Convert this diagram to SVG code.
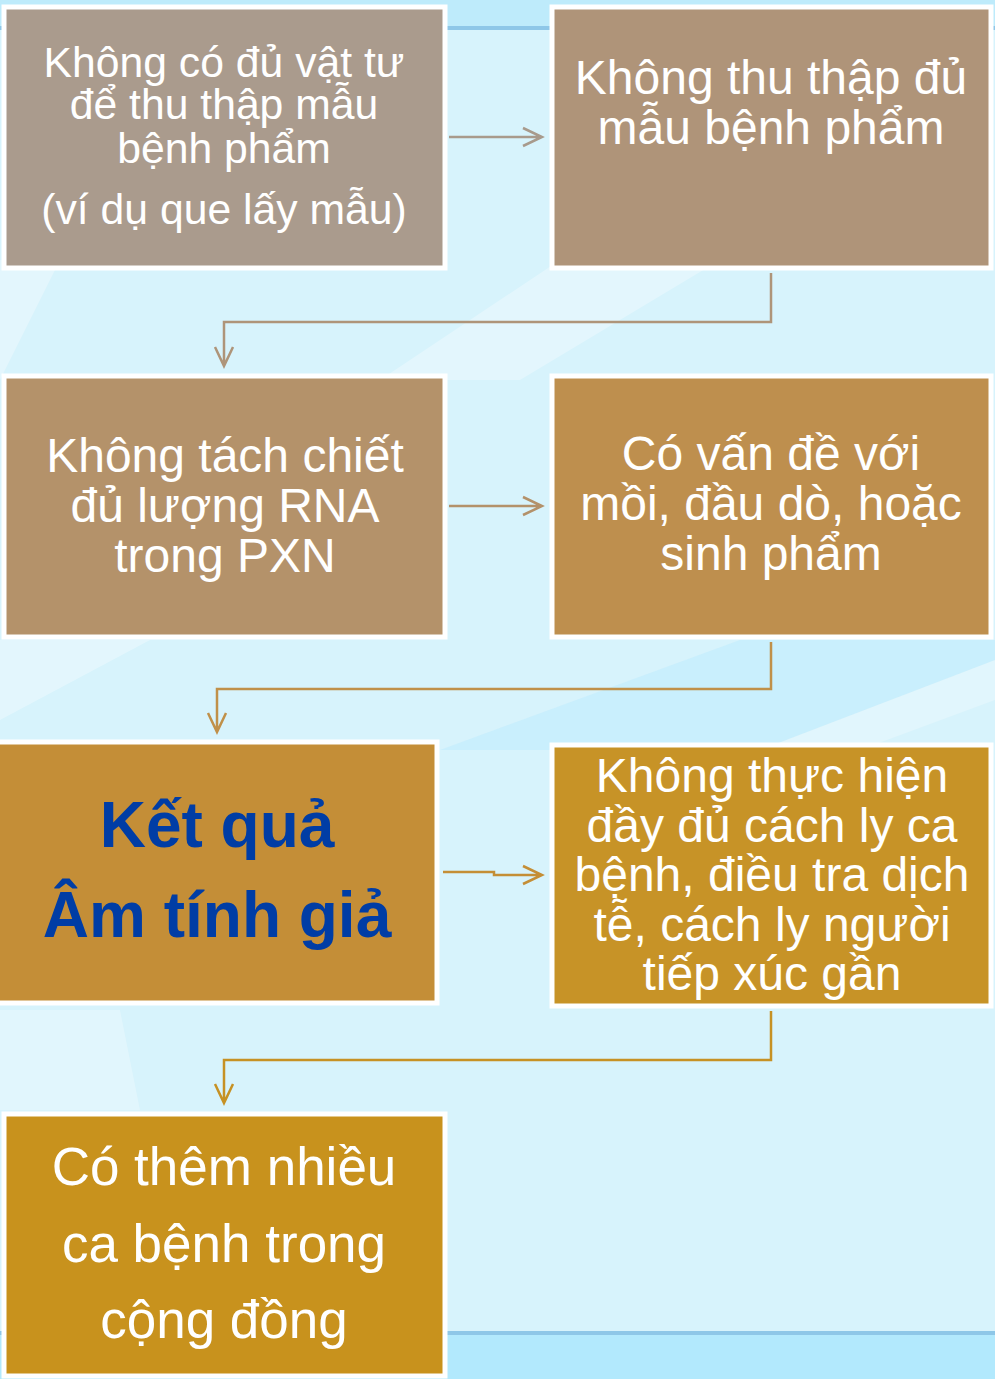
<svg xmlns="http://www.w3.org/2000/svg" width="995" height="1379" viewBox="0 0 995 1379">
<style>
.box{stroke:#fff;stroke-width:5}
.t{font-family:"Liberation Sans",Arial,sans-serif;fill:#fff;text-anchor:middle}
.b{font-family:"Liberation Sans",Arial,sans-serif;fill:#003DA5;font-weight:bold;text-anchor:middle}
.c{fill:none;stroke-width:2.5}
</style>
<g id="background">
<rect x="0" y="0" width="995" height="1379" fill="#D7F3FC"/>
<polygon points="0,0 995,0 995,28 0,28" fill="#BEEBFB"/>
<polygon points="380,380 560,260 720,260 520,380" fill="#fff" opacity="0.3"/>
<polygon points="0,380 60,260 0,260" fill="#fff" opacity="0.3"/>
<polygon points="0,720 150,640 0,640" fill="#fff" opacity="0.3"/>
<polygon points="440,750 740,640 995,640 995,660 760,750" fill="#C6EEFC" opacity="0.8"/>
<polygon points="760,750 995,660 995,700 860,750" fill="#fff" opacity="0.25"/>
<polygon points="0,1010 120,1010 140,1110 0,1110" fill="#fff" opacity="0.25"/>
<rect x="0" y="1333" width="995" height="46" fill="#B2E9FD"/>
<rect x="0" y="26" width="995" height="4" fill="#8EC7E8"/>
<rect x="0" y="1331" width="995" height="4" fill="#8EC7E8"/>
</g>
<g id="connectors">
<path class="c" stroke="#A89A8C" d="M449 137H541M523 128L542 137L523 146"/>
<path class="c" stroke="#AE9479" d="M771 273V322H224V366M215 347L224 366L233 347"/>
<path class="c" stroke="#B3916A" d="M449 506H541M523 497L542 506L523 515"/>
<path class="c" stroke="#C09049" d="M771 642V689H217V732M208 713L217 732L226 713"/>
<path class="c" stroke="#C48E36" d="M443 872H494V875H541M523 866L542 875L523 884"/>
<path class="c" stroke="#C69124" d="M771 1011V1060H224V1103M215 1084L224 1103L233 1084"/>
</g>
<g id="n1">
<rect class="box" x="4" y="7" width="441" height="261" fill="#AA9B8D"/>
<text class="t" font-size="42.7"><tspan x="224" y="77">Không có đủ vật tư</tspan><tspan x="224" y="119">để thu thập mẫu</tspan><tspan x="224" y="163">bệnh phẩm</tspan><tspan x="224" y="224">(ví dụ que lấy mẫu)</tspan></text>
</g>
<g id="n2">
<rect class="box" x="552" y="7" width="439" height="261" fill="#AF9479"/>
<text class="t" font-size="48"><tspan x="771" y="94">Không thu thập đủ</tspan><tspan x="771" y="144">mẫu bệnh phẩm</tspan></text>
</g>
<g id="n3">
<rect class="box" x="4" y="376" width="441" height="261" fill="#B4926A"/>
<text class="t" font-size="48"><tspan x="225" y="472">Không tách chiết</tspan><tspan x="225" y="522">đủ lượng RNA</tspan><tspan x="225" y="572">trong PXN</tspan></text>
</g>
<g id="n4">
<rect class="box" x="552" y="376" width="439" height="261" fill="#BE8F4E"/>
<text class="t" font-size="48"><tspan x="771" y="470">Có vấn đề với</tspan><tspan x="771" y="520">mồi, đầu dò, hoặc</tspan><tspan x="771" y="570">sinh phẩm</tspan></text>
</g>
<g id="n5">
<rect class="box" x="-3" y="742" width="440" height="261" fill="#C48E37"/>
<text class="b" font-size="64"><tspan x="217" y="847">Kết quả</tspan><tspan x="217" y="937">Âm tính giả</tspan></text>
</g>
<g id="n6">
<rect class="box" x="552" y="745" width="439" height="261" fill="#C79327"/>
<text class="t" font-size="48"><tspan x="772" y="792">Không thực hiện</tspan><tspan x="772" y="842">đầy đủ cách ly ca</tspan><tspan x="772" y="891">bệnh, điều tra dịch</tspan><tspan x="772" y="941">tễ, cách ly người</tspan><tspan x="772" y="990">tiếp xúc gần</tspan></text>
</g>
<g id="n7">
<rect class="box" x="4" y="1114" width="441" height="262" fill="#C8921D"/>
<text class="t" font-size="53"><tspan x="224" y="1185">Có thêm nhiều</tspan><tspan x="224" y="1262">ca bệnh trong</tspan><tspan x="224" y="1338">cộng đồng</tspan></text>
</g>
</svg>
